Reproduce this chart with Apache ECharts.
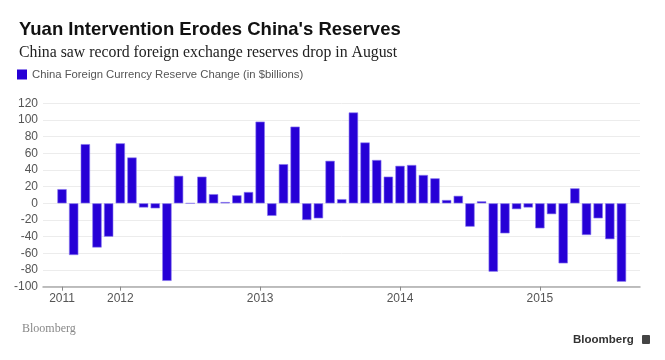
<!DOCTYPE html>
<html>
<head>
<meta charset="utf-8">
<script src="https://cdn.jsdelivr.net/npm/echarts@6/dist/echarts.min.js"></script>
<style>
html,body{margin:0;padding:0;background:#fff;}
#chart{width:665px;height:360px;}
</style>
</head>
<body>
<div id="chart"></div>
<script>
// Monthly categories Aug 2011 .. Aug 2015
var months = ['2011-08','2011-09','2011-10','2011-11','2011-12',
  '2012-01','2012-02','2012-03','2012-04','2012-05','2012-06','2012-07','2012-08','2012-09','2012-10','2012-11','2012-12',
  '2013-01','2013-02','2013-03','2013-04','2013-05','2013-06','2013-07','2013-08','2013-09','2013-10','2013-11','2013-12',
  '2014-01','2014-02','2014-03','2014-04','2014-05','2014-06','2014-07','2014-08','2014-09','2014-10','2014-11','2014-12',
  '2015-01','2015-02','2015-03','2015-04','2015-05','2015-06','2015-07','2015-08'];
var reserveChange = [17, -62, 71, -53, -40,
  72, 55, -5, -6, -93, 33, 0, 32, 11, 1.5, 9.6, 13.6,
  98, -15, 47, 92, -20, -18, 51, 5, 109, 73, 52, 32,
  45, 46, 34, 30, 4, 9, -28, 2.4, -82, -36, -7, -5,
  -30, -13, -72, 18, -38, -18, -43, -94];
var yearLabels = {'2011-08':'2011','2012-01':'2012','2013-01':'2013','2014-01':'2014','2015-01':'2015'};
var yMin = -100, yMax = 120, yStep = 20;
var seriesName = 'China Foreign Currency Reserve Change (in $billions)';

var chart = echarts.init(document.getElementById('chart'), null, {renderer:'canvas'});
function isYearIdx(i){ return yearLabels.hasOwnProperty(months[i]); }
var FONT = 'Liberation Sans, Arial, sans-serif';
chart.setOption({
  animation:false,
  backgroundColor:'#fff',
  title:{
    text:"Yuan Intervention Erodes China's Reserves",
    subtext:'China saw record foreign exchange reserves drop in August',
    left:14, top:15, itemGap:6,
    textStyle:{fontFamily:FONT, fontWeight:'bold', fontSize:18.5, color:'#111'},
    subtextStyle:{fontFamily:'Liberation Serif, DejaVu Serif, serif', fontSize:15.8, color:'#222'}
  },
  legend:{
    left:17, top:69, padding:0, itemWidth:10, itemHeight:10, itemGap:5,
    icon:'rect',
    itemStyle:{borderWidth:0},
    textStyle:{fontFamily:FONT, fontSize:11.3, color:'#555'},
    data:[seriesName]
  },
  grid:[
    {left:43, right:25, top:103.3, bottom:73.3, containLabel:false},
    {left:56.2, right:37.7, top:103.3, bottom:73.3, containLabel:false}
  ],
  xAxis:[
    {gridIndex:0, type:'category', data:months, axisLine:{onZero:false, lineStyle:{color:'#aaa', width:1.5}},
      axisTick:{show:false}, axisLabel:{show:false}, splitLine:{show:false}},
    {gridIndex:1, type:'category', data:months,
      axisLine:{show:false, onZero:false},
      axisTick:{show:true, alignWithLabel:true, length:4, lineStyle:{color:'#888'},
        interval:function(i){return isYearIdx(i);}},
      axisLabel:{interval:function(i){return isYearIdx(i);}, formatter:function(v){return yearLabels[v]||'';},
        color:'#555', fontSize:12, margin:6, fontFamily:FONT},
      splitLine:{show:false}}
  ],
  yAxis:[
    {gridIndex:0, type:'value', min:yMin, max:yMax, interval:yStep,
      axisLine:{show:false}, axisTick:{show:false},
      axisLabel:{color:'#555', fontSize:12, margin:5, fontFamily:FONT},
      splitLine:{lineStyle:{color:'#ececec', width:1}}},
    {gridIndex:1, type:'value', min:yMin, max:yMax, interval:yStep, show:false,
      splitLine:{show:false}}
  ],
  series:[{
    name:seriesName,
    type:'bar',
    xAxisIndex:1, yAxisIndex:1,
    data:reserveChange,
    barCategoryGap:'20%',
    itemStyle:{color:'#2600d6', borderColor:'#8a78f0', borderWidth:0.6}
  }],
  graphic:[
    {type:'text', left:22, top:323, style:{text:'Bloomberg', font:'12px "Liberation Serif", serif', fill:'#888'}},
    {type:'text', left:573, top:334, style:{text:'Bloomberg', font:'bold 11.5px "Liberation Sans", Arial, sans-serif', fill:'#333'}},
    {type:'rect', left:642, top:335, shape:{width:8, height:9, r:1}, style:{fill:'#444'}}
  ]
});
</script>
</body>
</html>
